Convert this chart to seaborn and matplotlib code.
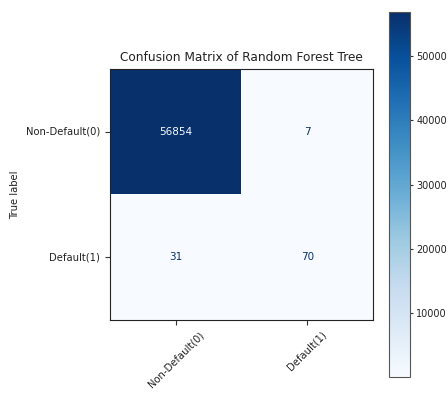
import numpy as np
import pandas as pd
import seaborn as sns
import matplotlib
matplotlib.use("Agg")
import matplotlib.pyplot as plt

# Confusion matrix counts (rows: true class, columns: predicted class)
class_labels = ["Non-Default(0)", "Default(1)"]
row_non_default = [56854, 7]
row_default = [31, 70]
cbar_ticks = [10000, 20000, 30000, 40000, 50000]

cm = pd.DataFrame([row_non_default, row_default], index=class_labels, columns=class_labels)

sns.set_style("white")
plt.rcParams["font.family"] = ["DejaVu Sans"]

fig = plt.figure(figsize=(4.48, 3.94), dpi=100)
ax = fig.add_axes([0.2455, 0.188, 0.587, 0.637])
cax = fig.add_axes([0.868, 0.043, 0.047, 0.926])

cmap = plt.get_cmap("Blues")
vmin, vmax = cm.values.min(), cm.values.max()
sns.heatmap(cm, ax=ax, cbar_ax=cax, cmap=cmap, vmin=vmin, vmax=vmax,
            annot=True, fmt="d", annot_kws={"fontsize": 7.5},
            cbar_kws={"ticks": cbar_ticks})

# Text colour follows the colormap: light on dark cells, dark on light cells
thresh = (vmax + vmin) / 2.0
for txt, val in zip(ax.texts, cm.values.ravel()):
    txt.set_color(cmap(0.0) if val > thresh else cmap(1.0))

for side in ["top", "right", "bottom", "left"]:
    ax.spines[side].set_visible(True)
    ax.spines[side].set_color("#222222")
    ax.spines[side].set_linewidth(0.8)

ax.tick_params(axis="both", which="both", length=3.5, width=0.8, labelsize=7.2,
               bottom=True, left=True, color="#333333", labelcolor="#222222")
plt.setp(ax.get_xticklabels(), rotation=45, ha="center", rotation_mode="default")
plt.setp(ax.get_yticklabels(), rotation=0)
ax.set_xlabel("Predicted label", fontsize=7.2, color="#222222")
ax.set_ylabel("True label", fontsize=7.2, color="#222222")
ax.set_title("Confusion Matrix of Random Forest Tree", fontsize=8.7, color="#222222")

cax.tick_params(labelsize=7.0, length=2.5, width=0.8, pad=2, right=True,
                color="#333333", labelcolor="#222222")
cbar = ax.collections[0].colorbar
cbar.outline.set_visible(True)
cbar.outline.set_edgecolor("#555555")
cbar.outline.set_linewidth(0.8)

fig.savefig("out.png", dpi=100)
